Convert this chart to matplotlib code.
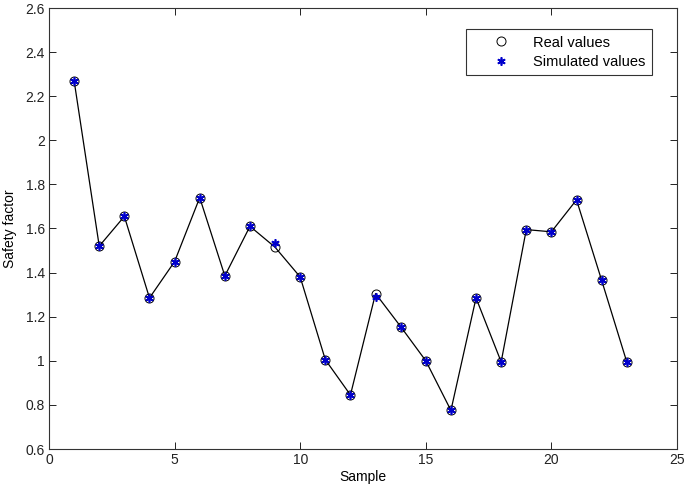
import matplotlib
matplotlib.use("Agg")
import matplotlib.pyplot as plt
from matplotlib import font_manager

samples = list(range(1, 24))
real_values = [2.27, 1.52, 1.655, 1.285, 1.45, 1.74, 1.385, 1.61, 1.515, 1.38,
               1.005, 0.845, 1.305, 1.155, 1.0, 0.775, 1.285, 0.995, 1.595, 1.585,
               1.73, 1.365, 0.995]
simulated_values = [2.27, 1.52, 1.655, 1.285, 1.45, 1.74, 1.385, 1.61, 1.535, 1.38,
                    1.005, 0.845, 1.29, 1.155, 1.0, 0.775, 1.285, 0.995, 1.595, 1.585,
                    1.73, 1.365, 0.995]
xticks = [0, 5, 10, 15, 20, 25]
yticks = [0.6, 0.8, 1.0, 1.2, 1.4, 1.6, 1.8, 2.0, 2.2, 2.4, 2.6]
ytick_labels = ["0.6", "0.8", "1", "1.2", "1.4", "1.6", "1.8", "2", "2.2", "2.4", "2.6"]

installed = {f.name for f in font_manager.fontManager.ttflist}
fam = ["Liberation Sans Narrow", "Liberation Sans", "DejaVu Sans"]
fam = [f for f in fam if f in installed] or ["DejaVu Sans"]
plt.rcParams["font.family"] = fam

fig = plt.figure(figsize=(6.85, 4.9), dpi=100)
ax = fig.add_axes([49/685, (490-449)/490, 628/685, 441/490])

ax.plot(samples, real_values, color="black", lw=0.9)
ax.plot(samples, real_values, ls="none", marker="o", ms=6.5,
        mfc="none", mec="black", mew=0.7, label="Real values")
ax.plot(samples, simulated_values, ls="none", marker=(6, 2, 0), ms=6,
        mew=1.2, color="#0000cc", label="Simulated values")

ax.set_xlim(0, 25)
ax.set_ylim(0.6, 2.6)
ax.set_xticks(xticks)
ax.set_yticks(yticks)
ax.set_yticklabels(ytick_labels)
ax.tick_params(direction="in", top=True, right=True, length=5, width=0.7,
               labelsize=10, colors="#222222", pad=3)
for s in ax.spines.values():
    s.set_linewidth(0.8)
    s.set_color("#333333")
ax.set_xlabel("Sample", fontsize=10, labelpad=2)
ax.set_ylabel("Safety factor", fontsize=10, labelpad=6)

leg = ax.legend(loc="upper right", bbox_to_anchor=(1 - 25/628, 1 - 21/441),
                fontsize=10.5, frameon=True, fancybox=False, edgecolor="black",
                borderaxespad=0, handlelength=3.9, handletextpad=0.25,
                borderpad=0.45, labelspacing=0.35)
leg.get_frame().set_linewidth(0.8)

fig.savefig("out.png", dpi=100)
